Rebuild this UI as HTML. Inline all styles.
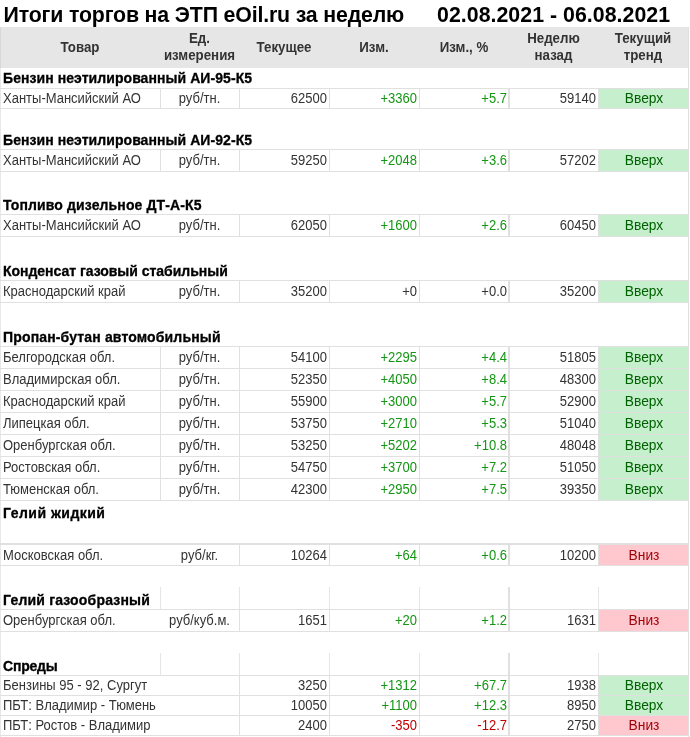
<!DOCTYPE html>
<html lang="ru"><head><meta charset="utf-8"><title>Итоги торгов на ЭТП eOil.ru</title>
<style>
html,body{margin:0;padding:0;background:#fff;}
body{width:690px;height:737px;position:relative;overflow:hidden;font-family:"Liberation Sans",sans-serif;color:#333;font-size:13.33px;}
.abs{position:absolute;white-space:nowrap;}
.title{font-weight:bold;font-size:21.33px;letter-spacing:-0.17px;color:#000;line-height:24px;}
.hdr{position:absolute;left:0;top:27px;width:688px;height:41px;background:#e6e6e6;}
.h{position:absolute;font-weight:bold;color:#333;text-align:center;line-height:17px;font-size:14px;transform:scaleX(0.95);transform-origin:50% 50%;white-space:nowrap;}
.sec{position:absolute;left:3px;font-weight:bold;color:#000;-webkit-text-stroke:0.3px #000;font-size:14px;line-height:18px;white-space:nowrap;}
.c{position:absolute;line-height:16px;height:16px;white-space:nowrap;font-size:14px;transform:scaleX(0.9286);}
.l{text-align:left;transform-origin:0 50%;}
.r{text-align:right;transform-origin:100% 50%;}
.m{text-align:center;transform-origin:50% 50%;}
.g{color:#149614;}
.n{color:#c00000;}
.hl{position:absolute;height:1px;background:#e0e0e0;}
.vl{position:absolute;width:1px;background:#e0e0e0;}
.up{position:absolute;background:#c6efce;}
.dn{position:absolute;background:#ffc7ce;}
.upt{color:#006100;transform:scaleX(0.985);}
.dnt{color:#9c0006;transform:scaleX(0.985);}
</style></head><body>

<div class="abs title" style="left:3.5px;top:3px;">Итоги торгов на ЭТП eOil.ru за неделю</div>
<div class="abs title" style="left:437px;top:3px;letter-spacing:0.03px;">02.08.2021 - 06.08.2021</div>
<div class="hdr"></div>
<div class="h" style="left:0px;width:160px;top:38.5px;">Товар</div>
<div class="h" style="left:160px;width:79px;top:29.5px;">Ед.<br>измерения</div>
<div class="h" style="left:239px;width:90px;top:38.5px;">Текущее</div>
<div class="h" style="left:329px;width:90px;top:38.5px;">Изм.</div>
<div class="h" style="left:419px;width:90px;top:38.5px;">Изм., %</div>
<div class="h" style="left:509px;width:89px;top:29.5px;">Неделю<br>назад</div>
<div class="h" style="left:598px;width:90px;top:29.5px;">Текущий<br>тренд</div>
<div class="vl" style="left:688px;top:27px;height:710px;"></div>
<div class="vl" style="left:0px;top:68px;height:669px;background:#e8e8e8;"></div>
<div class="vl" style="left:0px;top:27px;height:41px;background:#d8d8d8;"></div>
<div class="sec" style="top:68.95px;letter-spacing:0.066px;">Бензин неэтилированный АИ-95-К5</div>
<div class="hl" style="left:0px;top:88px;width:689px;height:1px;"></div>
<div class="hl" style="left:0px;top:108px;width:689px;height:1px;"></div>
<div class="vl" style="left:160px;top:88px;height:21px;width:1px;"></div>
<div class="vl" style="left:239px;top:88px;height:21px;width:1px;"></div>
<div class="vl" style="left:329px;top:88px;height:21px;width:1px;"></div>
<div class="vl" style="left:419px;top:88px;height:21px;width:1px;"></div>
<div class="vl" style="left:598px;top:88px;height:21px;width:1px;"></div>
<div class="vl" style="left:508px;top:88px;height:21px;width:2px;"></div>
<div class="c l" style="left:3px;top:90.4px;">Ханты-Мансийский АО</div>
<div class="c m" style="left:160px;width:79px;top:90.4px;">руб/тн.</div>
<div class="c r" style="left:239px;width:88px;top:90.4px;">62500</div>
<div class="c r g" style="left:329px;width:88px;top:90.4px;">+3360</div>
<div class="c r g" style="left:419px;width:88px;top:90.4px;">+5.7</div>
<div class="c r" style="left:510px;width:86px;top:90.4px;">59140</div>
<div class="up" style="left:599px;width:89px;top:89px;height:19px;"></div>
<div class="c m upt" style="left:598.5px;width:90px;top:90.4px;">Вверх</div>
<div class="sec" style="top:130.8px;letter-spacing:0.066px;">Бензин неэтилированный АИ-92-К5</div>
<div class="hl" style="left:0px;top:149px;width:689px;height:1px;"></div>
<div class="hl" style="left:0px;top:171px;width:689px;height:1px;"></div>
<div class="vl" style="left:160px;top:149px;height:23px;width:1px;"></div>
<div class="vl" style="left:239px;top:149px;height:23px;width:1px;"></div>
<div class="vl" style="left:329px;top:149px;height:23px;width:1px;"></div>
<div class="vl" style="left:419px;top:149px;height:23px;width:1px;"></div>
<div class="vl" style="left:598px;top:149px;height:23px;width:1px;"></div>
<div class="vl" style="left:508px;top:149px;height:23px;width:2px;"></div>
<div class="c l" style="left:3px;top:152.4px;">Ханты-Мансийский АО</div>
<div class="c m" style="left:160px;width:79px;top:152.4px;">руб/тн.</div>
<div class="c r" style="left:239px;width:88px;top:152.4px;">59250</div>
<div class="c r g" style="left:329px;width:88px;top:152.4px;">+2048</div>
<div class="c r g" style="left:419px;width:88px;top:152.4px;">+3.6</div>
<div class="c r" style="left:510px;width:86px;top:152.4px;">57202</div>
<div class="up" style="left:599px;width:89px;top:150px;height:21px;"></div>
<div class="c m upt" style="left:598.5px;width:90px;top:152.4px;">Вверх</div>
<div class="sec" style="top:195.8px;letter-spacing:0.124px;">Топливо дизельное ДТ-А-К5</div>
<div class="hl" style="left:0px;top:214px;width:689px;height:1px;"></div>
<div class="hl" style="left:0px;top:236px;width:689px;height:1px;"></div>
<div class="vl" style="left:239px;top:214px;height:23px;width:1px;"></div>
<div class="vl" style="left:329px;top:214px;height:23px;width:1px;"></div>
<div class="vl" style="left:419px;top:214px;height:23px;width:1px;"></div>
<div class="vl" style="left:598px;top:214px;height:23px;width:1px;"></div>
<div class="vl" style="left:508px;top:214px;height:23px;width:2px;"></div>
<div class="c l" style="left:3px;top:217.4px;">Ханты-Мансийский АО</div>
<div class="c m" style="left:160px;width:79px;top:217.4px;">руб/тн.</div>
<div class="c r" style="left:239px;width:88px;top:217.4px;">62050</div>
<div class="c r g" style="left:329px;width:88px;top:217.4px;">+1600</div>
<div class="c r g" style="left:419px;width:88px;top:217.4px;">+2.6</div>
<div class="c r" style="left:510px;width:86px;top:217.4px;">60450</div>
<div class="up" style="left:599px;width:89px;top:215px;height:21px;"></div>
<div class="c m upt" style="left:598.5px;width:90px;top:217.4px;">Вверх</div>
<div class="sec" style="top:261.65px;letter-spacing:-0.024px;">Конденсат газовый стабильный</div>
<div class="hl" style="left:0px;top:280px;width:689px;height:1px;"></div>
<div class="hl" style="left:0px;top:302px;width:689px;height:1px;"></div>
<div class="vl" style="left:239px;top:280px;height:23px;width:1px;"></div>
<div class="vl" style="left:329px;top:280px;height:23px;width:1px;"></div>
<div class="vl" style="left:419px;top:280px;height:23px;width:1px;"></div>
<div class="vl" style="left:598px;top:280px;height:23px;width:1px;"></div>
<div class="vl" style="left:508px;top:280px;height:23px;width:2px;"></div>
<div class="c l" style="left:3px;top:283.4px;">Краснодарский край</div>
<div class="c m" style="left:160px;width:79px;top:283.4px;">руб/тн.</div>
<div class="c r" style="left:239px;width:88px;top:283.4px;">35200</div>
<div class="c r " style="left:329px;width:88px;top:283.4px;">+0</div>
<div class="c r " style="left:419px;width:88px;top:283.4px;">+0.0</div>
<div class="c r" style="left:510px;width:86px;top:283.4px;">35200</div>
<div class="up" style="left:599px;width:89px;top:281px;height:21px;"></div>
<div class="c m upt" style="left:598.5px;width:90px;top:283.4px;">Вверх</div>
<div class="sec" style="top:327.8px;letter-spacing:0.153px;">Пропан-бутан автомобильный</div>
<div class="hl" style="left:0px;top:346px;width:689px;height:1px;"></div>
<div class="hl" style="left:0px;top:368px;width:689px;height:1px;"></div>
<div class="vl" style="left:160px;top:346px;height:23px;width:1px;"></div>
<div class="vl" style="left:239px;top:346px;height:23px;width:1px;"></div>
<div class="vl" style="left:329px;top:346px;height:23px;width:1px;"></div>
<div class="vl" style="left:419px;top:346px;height:23px;width:1px;"></div>
<div class="vl" style="left:598px;top:346px;height:23px;width:1px;"></div>
<div class="vl" style="left:508px;top:346px;height:23px;width:2px;"></div>
<div class="c l" style="left:3px;top:349.4px;">Белгородская обл.</div>
<div class="c m" style="left:160px;width:79px;top:349.4px;">руб/тн.</div>
<div class="c r" style="left:239px;width:88px;top:349.4px;">54100</div>
<div class="c r g" style="left:329px;width:88px;top:349.4px;">+2295</div>
<div class="c r g" style="left:419px;width:88px;top:349.4px;">+4.4</div>
<div class="c r" style="left:510px;width:86px;top:349.4px;">51805</div>
<div class="up" style="left:599px;width:89px;top:347px;height:21px;"></div>
<div class="c m upt" style="left:598.5px;width:90px;top:349.4px;">Вверх</div>
<div class="hl" style="left:0px;top:368px;width:689px;height:1px;"></div>
<div class="hl" style="left:0px;top:390px;width:689px;height:1px;"></div>
<div class="vl" style="left:160px;top:368px;height:23px;width:1px;"></div>
<div class="vl" style="left:239px;top:368px;height:23px;width:1px;"></div>
<div class="vl" style="left:329px;top:368px;height:23px;width:1px;"></div>
<div class="vl" style="left:419px;top:368px;height:23px;width:1px;"></div>
<div class="vl" style="left:598px;top:368px;height:23px;width:1px;"></div>
<div class="vl" style="left:508px;top:368px;height:23px;width:2px;"></div>
<div class="c l" style="left:3px;top:371.4px;">Владимирская обл.</div>
<div class="c m" style="left:160px;width:79px;top:371.4px;">руб/тн.</div>
<div class="c r" style="left:239px;width:88px;top:371.4px;">52350</div>
<div class="c r g" style="left:329px;width:88px;top:371.4px;">+4050</div>
<div class="c r g" style="left:419px;width:88px;top:371.4px;">+8.4</div>
<div class="c r" style="left:510px;width:86px;top:371.4px;">48300</div>
<div class="up" style="left:599px;width:89px;top:369px;height:21px;"></div>
<div class="c m upt" style="left:598.5px;width:90px;top:371.4px;">Вверх</div>
<div class="hl" style="left:0px;top:390px;width:689px;height:1px;"></div>
<div class="hl" style="left:0px;top:412px;width:689px;height:1px;"></div>
<div class="vl" style="left:160px;top:390px;height:23px;width:1px;"></div>
<div class="vl" style="left:239px;top:390px;height:23px;width:1px;"></div>
<div class="vl" style="left:329px;top:390px;height:23px;width:1px;"></div>
<div class="vl" style="left:419px;top:390px;height:23px;width:1px;"></div>
<div class="vl" style="left:598px;top:390px;height:23px;width:1px;"></div>
<div class="vl" style="left:508px;top:390px;height:23px;width:2px;"></div>
<div class="c l" style="left:3px;top:393.4px;">Краснодарский край</div>
<div class="c m" style="left:160px;width:79px;top:393.4px;">руб/тн.</div>
<div class="c r" style="left:239px;width:88px;top:393.4px;">55900</div>
<div class="c r g" style="left:329px;width:88px;top:393.4px;">+3000</div>
<div class="c r g" style="left:419px;width:88px;top:393.4px;">+5.7</div>
<div class="c r" style="left:510px;width:86px;top:393.4px;">52900</div>
<div class="up" style="left:599px;width:89px;top:391px;height:21px;"></div>
<div class="c m upt" style="left:598.5px;width:90px;top:393.4px;">Вверх</div>
<div class="hl" style="left:0px;top:412px;width:689px;height:1px;"></div>
<div class="hl" style="left:0px;top:434px;width:689px;height:1px;"></div>
<div class="vl" style="left:160px;top:412px;height:23px;width:1px;"></div>
<div class="vl" style="left:239px;top:412px;height:23px;width:1px;"></div>
<div class="vl" style="left:329px;top:412px;height:23px;width:1px;"></div>
<div class="vl" style="left:419px;top:412px;height:23px;width:1px;"></div>
<div class="vl" style="left:598px;top:412px;height:23px;width:1px;"></div>
<div class="vl" style="left:508px;top:412px;height:23px;width:2px;"></div>
<div class="c l" style="left:3px;top:415.4px;">Липецкая обл.</div>
<div class="c m" style="left:160px;width:79px;top:415.4px;">руб/тн.</div>
<div class="c r" style="left:239px;width:88px;top:415.4px;">53750</div>
<div class="c r g" style="left:329px;width:88px;top:415.4px;">+2710</div>
<div class="c r g" style="left:419px;width:88px;top:415.4px;">+5.3</div>
<div class="c r" style="left:510px;width:86px;top:415.4px;">51040</div>
<div class="up" style="left:599px;width:89px;top:413px;height:21px;"></div>
<div class="c m upt" style="left:598.5px;width:90px;top:415.4px;">Вверх</div>
<div class="hl" style="left:0px;top:434px;width:689px;height:1px;"></div>
<div class="hl" style="left:0px;top:456px;width:689px;height:1px;"></div>
<div class="vl" style="left:160px;top:434px;height:23px;width:1px;"></div>
<div class="vl" style="left:239px;top:434px;height:23px;width:1px;"></div>
<div class="vl" style="left:329px;top:434px;height:23px;width:1px;"></div>
<div class="vl" style="left:419px;top:434px;height:23px;width:1px;"></div>
<div class="vl" style="left:598px;top:434px;height:23px;width:1px;"></div>
<div class="vl" style="left:508px;top:434px;height:23px;width:2px;"></div>
<div class="c l" style="left:3px;top:437.4px;">Оренбургская обл.</div>
<div class="c m" style="left:160px;width:79px;top:437.4px;">руб/тн.</div>
<div class="c r" style="left:239px;width:88px;top:437.4px;">53250</div>
<div class="c r g" style="left:329px;width:88px;top:437.4px;">+5202</div>
<div class="c r g" style="left:419px;width:88px;top:437.4px;">+10.8</div>
<div class="c r" style="left:510px;width:86px;top:437.4px;">48048</div>
<div class="up" style="left:599px;width:89px;top:435px;height:21px;"></div>
<div class="c m upt" style="left:598.5px;width:90px;top:437.4px;">Вверх</div>
<div class="hl" style="left:0px;top:456px;width:689px;height:1px;"></div>
<div class="hl" style="left:0px;top:478px;width:689px;height:1px;"></div>
<div class="vl" style="left:160px;top:456px;height:23px;width:1px;"></div>
<div class="vl" style="left:239px;top:456px;height:23px;width:1px;"></div>
<div class="vl" style="left:329px;top:456px;height:23px;width:1px;"></div>
<div class="vl" style="left:419px;top:456px;height:23px;width:1px;"></div>
<div class="vl" style="left:598px;top:456px;height:23px;width:1px;"></div>
<div class="vl" style="left:508px;top:456px;height:23px;width:2px;"></div>
<div class="c l" style="left:3px;top:459.4px;">Ростовская обл.</div>
<div class="c m" style="left:160px;width:79px;top:459.4px;">руб/тн.</div>
<div class="c r" style="left:239px;width:88px;top:459.4px;">54750</div>
<div class="c r g" style="left:329px;width:88px;top:459.4px;">+3700</div>
<div class="c r g" style="left:419px;width:88px;top:459.4px;">+7.2</div>
<div class="c r" style="left:510px;width:86px;top:459.4px;">51050</div>
<div class="up" style="left:599px;width:89px;top:457px;height:21px;"></div>
<div class="c m upt" style="left:598.5px;width:90px;top:459.4px;">Вверх</div>
<div class="hl" style="left:0px;top:478px;width:689px;height:1px;"></div>
<div class="hl" style="left:0px;top:500px;width:689px;height:1px;"></div>
<div class="vl" style="left:160px;top:478px;height:23px;width:1px;"></div>
<div class="vl" style="left:239px;top:478px;height:23px;width:1px;"></div>
<div class="vl" style="left:329px;top:478px;height:23px;width:1px;"></div>
<div class="vl" style="left:419px;top:478px;height:23px;width:1px;"></div>
<div class="vl" style="left:598px;top:478px;height:23px;width:1px;"></div>
<div class="vl" style="left:508px;top:478px;height:23px;width:2px;"></div>
<div class="c l" style="left:3px;top:481.4px;">Тюменская обл.</div>
<div class="c m" style="left:160px;width:79px;top:481.4px;">руб/тн.</div>
<div class="c r" style="left:239px;width:88px;top:481.4px;">42300</div>
<div class="c r g" style="left:329px;width:88px;top:481.4px;">+2950</div>
<div class="c r g" style="left:419px;width:88px;top:481.4px;">+7.5</div>
<div class="c r" style="left:510px;width:86px;top:481.4px;">39350</div>
<div class="up" style="left:599px;width:89px;top:479px;height:21px;"></div>
<div class="c m upt" style="left:598.5px;width:90px;top:481.4px;">Вверх</div>
<div class="sec" style="top:503.8px;letter-spacing:0.48px;">Гелий жидкий</div>
<div class="hl" style="left:0px;top:543px;width:689px;height:2px;"></div>
<div class="hl" style="left:0px;top:565px;width:689px;height:1px;"></div>
<div class="vl" style="left:239px;top:544px;height:22px;width:1px;"></div>
<div class="vl" style="left:329px;top:544px;height:22px;width:1px;"></div>
<div class="vl" style="left:419px;top:544px;height:22px;width:1px;"></div>
<div class="vl" style="left:598px;top:544px;height:22px;width:1px;"></div>
<div class="vl" style="left:508px;top:544px;height:22px;width:2px;"></div>
<div class="c l" style="left:3px;top:547.4px;">Московская обл.</div>
<div class="c m" style="left:160px;width:79px;top:547.4px;">руб/кг.</div>
<div class="c r" style="left:239px;width:88px;top:547.4px;">10264</div>
<div class="c r g" style="left:329px;width:88px;top:547.4px;">+64</div>
<div class="c r g" style="left:419px;width:88px;top:547.4px;">+0.6</div>
<div class="c r" style="left:510px;width:86px;top:547.4px;">10200</div>
<div class="dn" style="left:599px;width:89px;top:545px;height:20px;"></div>
<div class="c m dnt" style="left:598.5px;width:90px;top:547.4px;">Вниз</div>
<div class="sec" style="top:590.8px;letter-spacing:0.19px;">Гелий газообразный</div>
<div class="vl" style="left:160px;top:587px;height:23px;width:1px;background:#e6e6e6;"></div>
<div class="vl" style="left:239px;top:587px;height:23px;width:1px;background:#e6e6e6;"></div>
<div class="vl" style="left:329px;top:587px;height:23px;width:1px;background:#e6e6e6;"></div>
<div class="vl" style="left:419px;top:587px;height:23px;width:1px;background:#e6e6e6;"></div>
<div class="vl" style="left:598px;top:587px;height:23px;width:1px;background:#e6e6e6;"></div>
<div class="vl" style="left:508px;top:587px;height:23px;width:2px;"></div>
<div class="hl" style="left:0px;top:609px;width:689px;height:1px;"></div>
<div class="hl" style="left:0px;top:631px;width:689px;height:1px;"></div>
<div class="vl" style="left:239px;top:609px;height:23px;width:1px;"></div>
<div class="vl" style="left:329px;top:609px;height:23px;width:1px;"></div>
<div class="vl" style="left:419px;top:609px;height:23px;width:1px;"></div>
<div class="vl" style="left:598px;top:609px;height:23px;width:1px;"></div>
<div class="vl" style="left:508px;top:609px;height:23px;width:2px;"></div>
<div class="c l" style="left:3px;top:612.4px;">Оренбургская обл.</div>
<div class="c m" style="left:160px;width:79px;top:612.4px;">руб/куб.м.</div>
<div class="c r" style="left:239px;width:88px;top:612.4px;">1651</div>
<div class="c r g" style="left:329px;width:88px;top:612.4px;">+20</div>
<div class="c r g" style="left:419px;width:88px;top:612.4px;">+1.2</div>
<div class="c r" style="left:510px;width:86px;top:612.4px;">1631</div>
<div class="dn" style="left:599px;width:89px;top:610px;height:21px;"></div>
<div class="c m dnt" style="left:598.5px;width:90px;top:612.4px;">Вниз</div>
<div class="sec" style="top:656.8px;letter-spacing:-0.2px;">Спреды</div>
<div class="vl" style="left:160px;top:653px;height:23px;width:1px;background:#e6e6e6;"></div>
<div class="vl" style="left:239px;top:653px;height:23px;width:1px;background:#e6e6e6;"></div>
<div class="vl" style="left:329px;top:653px;height:23px;width:1px;background:#e6e6e6;"></div>
<div class="vl" style="left:419px;top:653px;height:23px;width:1px;background:#e6e6e6;"></div>
<div class="vl" style="left:598px;top:653px;height:23px;width:1px;background:#e6e6e6;"></div>
<div class="vl" style="left:508px;top:653px;height:23px;width:2px;"></div>
<div class="hl" style="left:0px;top:675px;width:689px;height:1px;"></div>
<div class="hl" style="left:0px;top:695px;width:689px;height:1px;"></div>
<div class="vl" style="left:239px;top:675px;height:21px;width:1px;"></div>
<div class="vl" style="left:329px;top:675px;height:21px;width:1px;"></div>
<div class="vl" style="left:419px;top:675px;height:21px;width:1px;"></div>
<div class="vl" style="left:598px;top:675px;height:21px;width:1px;"></div>
<div class="vl" style="left:508px;top:675px;height:21px;width:2px;"></div>
<div class="c l" style="left:3px;top:677.4px;">Бензины 95 - 92, Сургут</div>
<div class="c r" style="left:239px;width:88px;top:677.4px;">3250</div>
<div class="c r g" style="left:329px;width:88px;top:677.4px;">+1312</div>
<div class="c r g" style="left:419px;width:88px;top:677.4px;">+67.7</div>
<div class="c r" style="left:510px;width:86px;top:677.4px;">1938</div>
<div class="up" style="left:599px;width:89px;top:676px;height:19px;"></div>
<div class="c m upt" style="left:598.5px;width:90px;top:677.4px;">Вверх</div>
<div class="hl" style="left:0px;top:695px;width:689px;height:1px;"></div>
<div class="hl" style="left:0px;top:715px;width:689px;height:1px;"></div>
<div class="vl" style="left:239px;top:695px;height:21px;width:1px;"></div>
<div class="vl" style="left:329px;top:695px;height:21px;width:1px;"></div>
<div class="vl" style="left:419px;top:695px;height:21px;width:1px;"></div>
<div class="vl" style="left:598px;top:695px;height:21px;width:1px;"></div>
<div class="vl" style="left:508px;top:695px;height:21px;width:2px;"></div>
<div class="c l" style="left:3px;top:697.4px;">ПБТ: Владимир - Тюмень</div>
<div class="c r" style="left:239px;width:88px;top:697.4px;">10050</div>
<div class="c r g" style="left:329px;width:88px;top:697.4px;">+1100</div>
<div class="c r g" style="left:419px;width:88px;top:697.4px;">+12.3</div>
<div class="c r" style="left:510px;width:86px;top:697.4px;">8950</div>
<div class="up" style="left:599px;width:89px;top:696px;height:19px;"></div>
<div class="c m upt" style="left:598.5px;width:90px;top:697.4px;">Вверх</div>
<div class="hl" style="left:0px;top:715px;width:689px;height:1px;"></div>
<div class="hl" style="left:0px;top:735px;width:689px;height:1px;"></div>
<div class="vl" style="left:239px;top:715px;height:21px;width:1px;"></div>
<div class="vl" style="left:329px;top:715px;height:21px;width:1px;"></div>
<div class="vl" style="left:419px;top:715px;height:21px;width:1px;"></div>
<div class="vl" style="left:598px;top:715px;height:21px;width:1px;"></div>
<div class="vl" style="left:508px;top:715px;height:21px;width:2px;"></div>
<div class="c l" style="left:3px;top:717.4px;">ПБТ: Ростов - Владимир</div>
<div class="c r" style="left:239px;width:88px;top:717.4px;">2400</div>
<div class="c r n" style="left:329px;width:88px;top:717.4px;">-350</div>
<div class="c r n" style="left:419px;width:88px;top:717.4px;">-12.7</div>
<div class="c r" style="left:510px;width:86px;top:717.4px;">2750</div>
<div class="dn" style="left:599px;width:89px;top:716px;height:19px;"></div>
<div class="c m dnt" style="left:598.5px;width:90px;top:717.4px;">Вниз</div>
</body></html>
